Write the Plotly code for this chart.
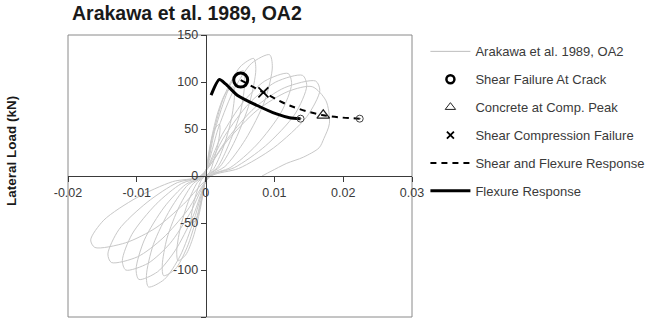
import plotly.graph_objects as go

# ---------------- data ----------------
HYST_X = [0,
          0.0004, 0.0009, 0.0014, 0.002, 0.0021, 0.0018, 0.0012, 0.0006, 0.0001,
          -0.0004, -0.0009, -0.0014, -0.002, -0.0021, -0.0018, -0.0012, -0.0006, -0.0001,
          0.0008, 0.0018, 0.0029, 0.004, 0.0042, 0.0037, 0.0025, 0.0012, 0.0002,
          -0.0008, -0.0018, -0.0029, -0.004, -0.0042, -0.0037, -0.0025, -0.0012, -0.0002,
          0.0011, 0.0025, 0.004, 0.0055, 0.0057, 0.0051, 0.0034, 0.0017, 0.0003,
          -0.0012, -0.0027, -0.0044, -0.0061, -0.0063, -0.0056, -0.0038, -0.0018, -0.0003,
          0.0014, 0.0032, 0.005, 0.007, 0.0073, 0.0064, 0.0043, 0.0021, 0.0004,
          -0.0017, -0.0037, -0.006, -0.0083, -0.0086, -0.0076, -0.0051, -0.0025, -0.0004,
          0.0019, 0.0042, 0.0067, 0.0093, 0.0097, 0.0086, 0.0058, 0.0028, 0.0005,
          -0.0019, -0.0044, -0.007, -0.0097, -0.0101, -0.0089, -0.006, -0.0029, -0.0005,
          0.0024, 0.0054, 0.0086, 0.012, 0.0125, 0.011, 0.0074, 0.0036, 0.0006,
          -0.0023, -0.0052, -0.0084, -0.0116, -0.0121, -0.0107, -0.0072, -0.0035, -0.0006,
          0.0028, 0.0063, 0.0102, 0.0141, 0.0147, 0.013, 0.0087, 0.0042, 0.0007,
          -0.0027, -0.0062, -0.0099, -0.0137, -0.0142, -0.0126, -0.0085, -0.0041, -0.0007,
          0.0032, 0.0072, 0.0115, 0.016, 0.0166, 0.0147, 0.0099, 0.0048, 0.0008,
          -0.0032, -0.0072, -0.0116, -0.0161, -0.0167, -0.0148, -0.01, -0.0048, -0.0008,
          0.0032, 0.0075, 0.012, 0.0155, 0.0175, 0.018, 0.0172, 0.0165, 0.0142, 0.0118, 0.0095, 0.0082]
HYST_Y = [0,
          22, 40, 51, 55, 50, 34, 17, 4, 0,
          -20, -36, -47, -50, -45, -31, -15, -4, 0,
          38, 68, 88, 95, 86, 59, 29, 8, 0,
          -36, -65, -84, -90, -81, -56, -27, -7, 0,
          45, 81, 104, 112, 101, 69, 34, 9, 0,
          -42, -76, -99, -106, -95, -66, -32, -8, 0,
          50, 90, 116, 125, 113, 78, 38, 10, 0,
          -47, -85, -110, -118, -106, -73, -35, -9, 0,
          52, 93, 120, 129, 116, 80, 39, 10, 0,
          -44, -79, -102, -110, -99, -68, -33, -9, 0,
          44, 78, 101, 109, 98, 68, 33, 9, 0,
          -40, -72, -93, -100, -90, -62, -30, -8, 0,
          43, 77, 100, 107, 96, 66, 32, 9, 0,
          -37, -66, -86, -92, -83, -57, -28, -7, 0,
          40, 73, 94, 101, 91, 63, 30, 8, 0,
          -30, -55, -71, -76, -68, -47, -23, -6, 0,
          38, 70, 90, 95, 80, 56, 40, 30, 20, 13.5, 5, 0]

FLEX_X = [0.0008, 0.002, 0.0029, 0.0046, 0.0075, 0.0103, 0.0122, 0.0138]
FLEX_Y = [86, 102.6, 98, 86, 75, 66, 62, 61]

SHEAR_FLEX_X = [0.0051, 0.0084, 0.0122, 0.0171, 0.0224]
SHEAR_FLEX_Y = [102, 89, 75, 64.6, 61]

CRACK_X, CRACK_Y = [0.0051], [102]
COMP_PEAK_X, COMP_PEAK_Y = [0.0171], [64.6]
SHEAR_COMP_X, SHEAR_COMP_Y = [0.0084], [89]
END_X, END_Y = [0.0138, 0.0224], [61, 61]

X_TICKS = [-0.02, -0.01, 0, 0.01, 0.02, 0.03]
X_TICK_TEXT = ["-0.02", "-0.01", "0", "0.01", "0.02", "0.03"]
Y_TICKS = [-150, -100, -50, 0, 50, 100, 150]
Y_TICK_TEXT = ["-150", "-100", "-50", "0", "50", "100", "150"]

TITLE = "Arakawa et al. 1989, OA2"
Y_TITLE = "Lateral Load (kN)"
LEGEND_NAMES = ["Arakawa et al. 1989, OA2", "Shear Failure At Crack",
                "Concrete at Comp. Peak", "Shear Compression Failure",
                "Shear and Flexure Response", "Flexure Response"]

FONT = "Liberation Sans, Arial, sans-serif"
fig = go.Figure()

# data traces (no legend)
fig.add_trace(go.Scatter(x=HYST_X, y=HYST_Y, mode="lines", showlegend=False,
                         line=dict(color="#c8c8c8", width=1, shape="spline", smoothing=0.8)))
fig.add_trace(go.Scatter(x=SHEAR_FLEX_X, y=SHEAR_FLEX_Y, mode="lines", showlegend=False,
                         line=dict(color="black", width=2, dash="6px,5px", shape="spline")))
fig.add_trace(go.Scatter(x=FLEX_X, y=FLEX_Y, mode="lines", showlegend=False,
                         line=dict(color="black", width=3, shape="spline", smoothing=0.7)))
fig.add_trace(go.Scatter(x=END_X, y=END_Y, mode="markers", showlegend=False,
                         marker=dict(symbol="circle-open-dot", size=7, color="#444",
                                     line=dict(width=1))))
fig.add_trace(go.Scatter(x=CRACK_X, y=CRACK_Y, mode="markers", showlegend=False,
                         marker=dict(symbol="circle-open", size=14, color="black",
                                     line=dict(width=3))))
fig.add_trace(go.Scatter(x=COMP_PEAK_X, y=COMP_PEAK_Y, mode="markers", showlegend=False,
                         marker=dict(symbol="triangle-up-open", size=11, color="#222",
                                     line=dict(width=1.2))))
fig.add_trace(go.Scatter(x=SHEAR_COMP_X, y=SHEAR_COMP_Y, mode="markers", showlegend=False,
                         marker=dict(symbol="x-thin-open", size=10, color="black",
                                     line=dict(width=1.6))))

# legend entries
leg_specs = [
    dict(mode="lines", line=dict(color="#bdbdbd", width=1)),
    dict(mode="markers", marker=dict(symbol="circle-open", size=8, color="black", line=dict(width=2.5))),
    dict(mode="markers", marker=dict(symbol="triangle-up-open", size=9, color="#222", line=dict(width=1))),
    dict(mode="markers", marker=dict(symbol="x-thin-open", size=7, color="black", line=dict(width=1.8))),
    dict(mode="lines", line=dict(color="black", width=2, dash="6px,5px")),
    dict(mode="lines", line=dict(color="black", width=3)),
]
for i, (nm, spec) in enumerate(zip(LEGEND_NAMES, leg_specs)):
    fig.add_trace(go.Scatter(x=[None], y=[None], name=nm, legendgroup=f"g{i}",
                             showlegend=True, **spec))

axis_common = dict(showgrid=False, zeroline=False, showline=True, linecolor="#3a3a3a",
                   linewidth=1, ticks="outside", ticklen=5, tickcolor="#3a3a3a",
                   tickfont=dict(family=FONT, size=12.5, color="#3a3a3a"))
fig.update_layout(
    width=654, height=321,
    margin=dict(l=68, r=236, t=35, b=4),
    paper_bgcolor="white", plot_bgcolor="white",
    xaxis=dict(range=[-0.02, 0.03], tickvals=X_TICKS, ticktext=X_TICK_TEXT,
               anchor="free", position=0.5, **axis_common),
    yaxis=dict(range=[-150, 150], tickvals=Y_TICKS, ticktext=Y_TICK_TEXT,
               anchor="free", position=0.4, side="left", **axis_common),
    title=dict(text="<b>" + TITLE + "</b>", x=72 / 654, xanchor="left", xref="container",
               y=1 - 13 / 321, yanchor="middle", yref="container",
               font=dict(family=FONT, size=19.5, color="#1a1a1a")),
    legend=dict(x=1.039, xanchor="left", y=0.995, yanchor="top",
                font=dict(family=FONT, size=13, color="#3a3a3a"),
                tracegroupgap=8, itemwidth=40, bgcolor="rgba(0,0,0,0)"),
    showlegend=True,
    shapes=[dict(type="rect", xref="paper", yref="paper", x0=0, x1=1, y0=0, y1=1,
                 line=dict(color="#8a8a8a", width=1), layer="below")],
    annotations=[dict(text="<b>" + Y_TITLE + "</b>", textangle=-90, xref="paper", yref="paper",
                      x=(10 - 68) / 350, y=(317 - 151) / 282, showarrow=False,
                      xanchor="center", yanchor="middle",
                      font=dict(family=FONT, size=13.5, color="#1a1a1a"))],
)

fig.write_html("out.html")
